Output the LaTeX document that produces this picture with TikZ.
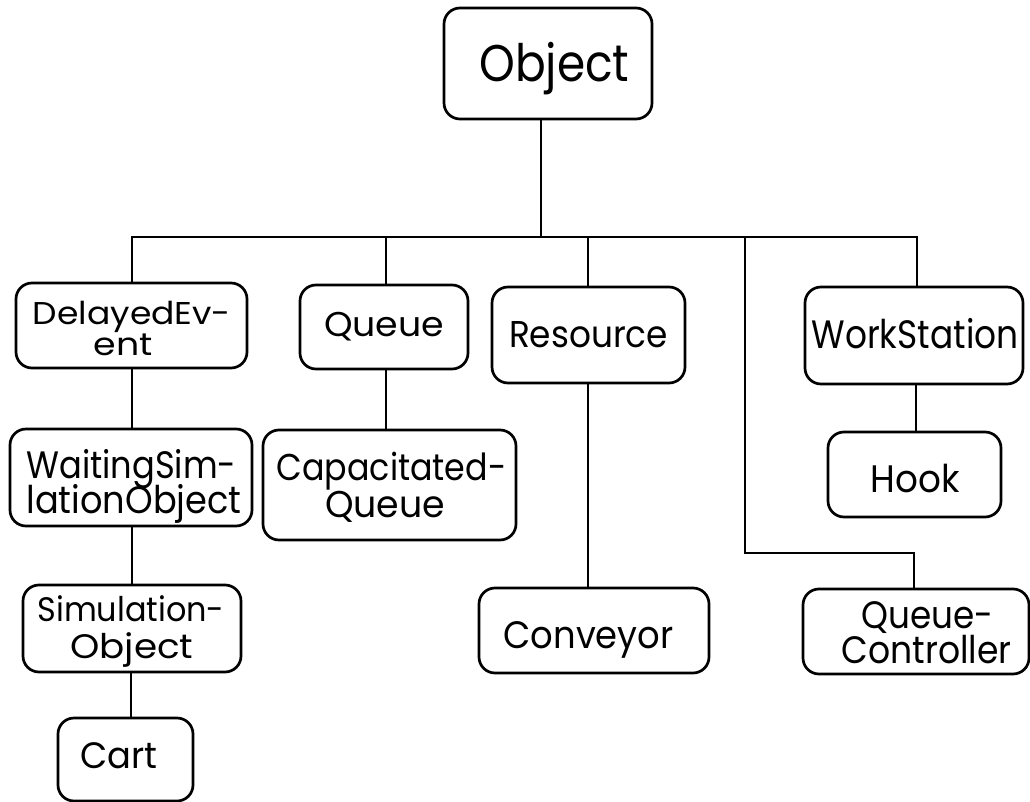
\documentclass[tikz,border=0pt]{standalone}
\usepackage{fontspec}
\setmainfont{Poppins}
\usepackage{graphicx}
% one label line: horizontal offset (twice the shift), width, text
\newcommand\wl[2]{\resizebox{#1pt}{\height}{#2}}
\newcommand\tx[3]{\makebox[0pt]{\hspace*{#1pt}\wl{#2}{#3}}}
% second line of a label, lowered by the given baseline skip
\newcommand\nx[4]{\raisebox{-#1pt}{\tx{#2}{#3}{#4}}}
\begin{document}
\begin{tikzpicture}[x=1pt,y=-1pt,
  cls/.style={draw, line width=2.7pt, rounded corners=16pt, inner sep=0pt},
  link/.style={line width=2.3pt, line join=miter},
  bar/.style={line width=2.9pt, line join=miter},
  thinlink/.style={line width=1.7pt}]
\useasboundingbox (0,0) rectangle (1030,802);

% class boxes
\node[cls, minimum width=208pt, minimum height=111pt, text height=37pt, text depth=0pt,
  font=\fontsize{51.6}{53}\selectfont] (obj) at (548,63.5) {\tx{13}{150}{Object}};

\node[cls, minimum width=231pt, minimum height=85pt, text height=0pt, text depth=3pt,
  font=\fontsize{31.5}{33}\selectfont] (de) at (131.5,325.5)
  {\tx{1}{198}{DelayedEv-}\nx{31.5}{-16}{59}{ent}};
\node[cls, minimum width=168pt, minimum height=84pt, text height=19pt, text depth=0pt,
  font=\fontsize{34.4}{36}\selectfont] (q) at (384,327) {\tx{0}{120}{Queue}};
\node[cls, minimum width=193pt, minimum height=96pt, text height=24pt, text depth=0pt,
  font=\fontsize{37.3}{39}\selectfont] (res) at (588.5,335) {\tx{0}{159}{Resource}};
\node[cls, minimum width=218pt, minimum height=97pt, text height=25pt, text depth=0pt,
  font=\fontsize{39.6}{41}\selectfont] (wst) at (914,335.5) {\tx{2}{207}{WorkStation}};

\node[cls, minimum width=242pt, minimum height=97pt, text height=1pt, text depth=0pt,
  font=\fontsize{38.2}{40}\selectfont] (wso) at (131,477.5)
  {\tx{1}{210}{WaitingSim-}\nx{35}{6}{215}{lationObject}};
\node[cls, minimum width=253pt, minimum height=110pt, text height=0pt, text depth=10pt,
  font=\fontsize{37.3}{39}\selectfont] (cq) at (389.5,485)
  {\tx{4}{230}{Capacitated-}\nx{37}{-9}{120}{Queue}};
\node[cls, minimum width=173pt, minimum height=85pt, text height=35pt, text depth=0pt,
  font=\fontsize{38.3}{40}\selectfont] (hook) at (914.5,474.5) {\tx{1}{89}{Hook}};

\node[cls, minimum width=218pt, minimum height=87pt, text height=0pt, text depth=13.6pt,
  font=\fontsize{34}{36}\selectfont] (so) at (132,628.5)
  {\tx{-2}{187}{Simulation-}\nx{36.3}{0}{123}{Object}};
\node[cls, minimum width=230pt, minimum height=85pt, text height=35pt, text depth=0pt,
  font=\fontsize{38.2}{40}\selectfont] (conv) at (594,630.5) {\tx{-11}{170}{Conveyor}};
\node[cls, minimum width=226pt, minimum height=85pt, text height=0pt, text depth=7pt,
  font=\fontsize{38.2}{40}\selectfont] (qc) at (916,631.5)
  {\tx{23}{132}{Queue-}\nx{35}{21}{170}{Controller}};

\node[cls, minimum width=135pt, minimum height=83pt, text height=17pt, text depth=0pt,
  font=\fontsize{36.7}{38}\selectfont] (cart) at (125.5,759.5) {\tx{-13}{77}{Cart}};

% junction points on the main bus and the lane to QueueController
\coordinate (j0) at (541,237);
\coordinate (jde) at (132,237);
\coordinate (jq) at (386,237);
\coordinate (jr) at (588,237);
\coordinate (jqc) at (745,237);
\coordinate (jws) at (917,237);
\coordinate (bendA) at (745,553);
\coordinate (bendB) at (914,553);
\coordinate (xcart) at (131,0);
\coordinate (xhook) at (916,0);

% connectors
\draw[link] (obj.south -| j0) -- (j0);
\draw[bar] (jde |- de.north) -- (jde) -- (jws) -- (jws |- wst.north);
\draw[link] (jq) -- (jq |- q.north);
\draw[link] (jr) -- (jr |- res.north);
\draw[link] (jqc) -- (bendA) -- (bendB) -- (bendB |- qc.north);

\draw[link] (de.south -| jde) -- (wso.north -| jde);
\draw[link] (wso.south -| jde) -- (so.north -| jde);
\draw[thinlink] (so.south -| xcart) -- (cart.north -| xcart);
\draw[link] (q.south -| jq) -- (cq.north -| jq);
\draw[link] (res.south -| jr) -- (conv.north -| jr);
\draw[link] (wst.south -| xhook) -- (hook.north -| xhook);
\end{tikzpicture}
\end{document}
